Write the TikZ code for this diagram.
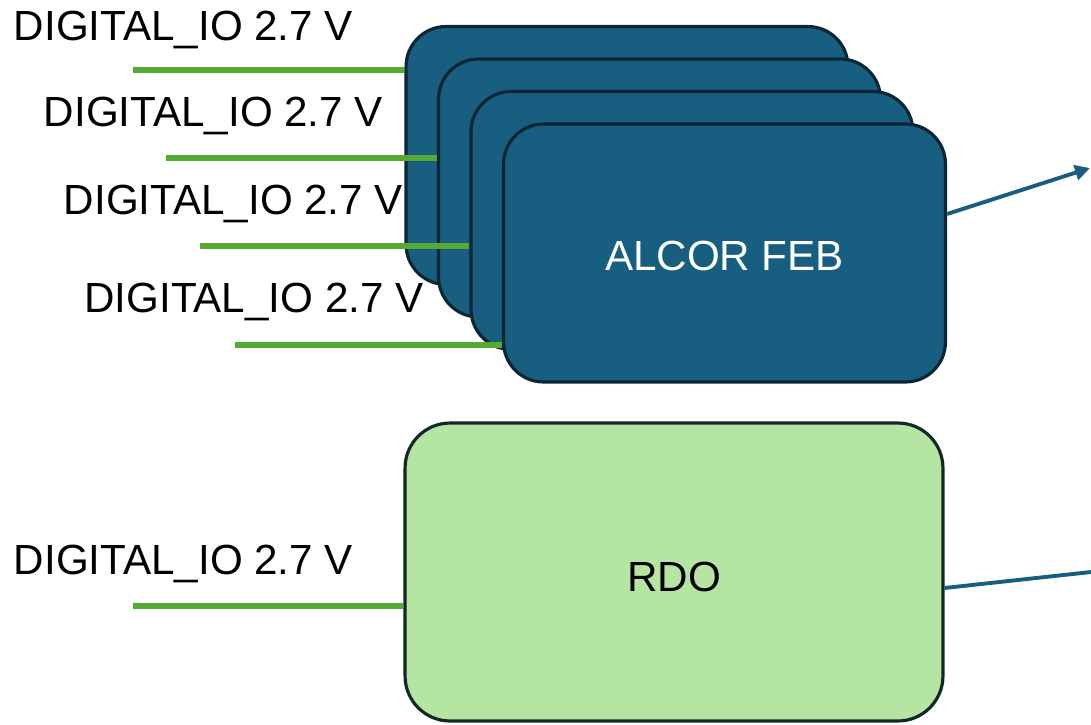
\documentclass[tikz,border=0pt]{standalone}
\usepackage{fontspec}
\setmainfont{Liberation Sans}
\usepackage{xcolor}
\usepackage{tikz}
\usetikzlibrary{arrows.meta, positioning}
\definecolor{FEBBlue}{RGB}{23, 94, 128}
\definecolor{FEBEdge}{RGB}{10, 38, 52}
\definecolor{RDOGreen}{RGB}{181, 229, 163}
\definecolor{RDOEdge}{RGB}{18, 40, 38}
\definecolor{IOGreen}{RGB}{84, 170, 50}

\begin{document}
\begin{tikzpicture}[x=0.02cm, y=-0.02cm, font=\fontsize{24}{28}\selectfont,
    febbox/.style={draw=FEBEdge, fill=FEBBlue, line width=1.8pt, rounded corners=0.8cm,
        minimum width=8.84cm, minimum height=5.16cm, inner sep=0pt},
    rdobox/.style={draw=RDOEdge, fill=RDOGreen, line width=1.8pt, rounded corners=0.9cm,
        minimum width=10.76cm, minimum height=5.96cm, inner sep=0pt},
    ioline/.style={IOGreen, line width=3.2pt},
    iolabel/.style={inner sep=0pt, anchor=center},
    busline/.style={FEBBlue, line width=2.2pt}]
    \useasboundingbox (0,0) rectangle (1091,724);

    % 四块 ALCOR FEB 叠放，每块左侧一路 DIGITAL_IO
    \foreach \i/\ly/\lx in {1/70/133, 2/158/166, 3/246/200, 4/345/235} {
        \node[febbox] (feb\i) at ({627+32.5*(\i-1)}, {155.5+32.5*(\i-1)}) {};
        \coordinate (io\i) at (\lx, \ly);
        \draw[ioline] (io\i) -- (io\i -| feb\i.west);
    }
    \node[white, iolabel] (feblabel) at ([yshift=-0.06cm]feb4.center) {ALCOR FEB};

    % 电压标注
    \foreach \i/\tx/\ty in {1/183.5/30, 2/213.5/116, 3/233.5/204, 4/254/302} {
        \node[iolabel] (iolab\i) at (\tx, \ty) {DIGITAL\_IO 2.7 V};
    }

    % RDO
    \node[rdobox] (rdo) at (674, 572) {};
    \node[iolabel] (rdolabel) at ([yshift=-0.1cm]rdo.center) {RDO};
    \coordinate (iordo) at (133, 606);
    \draw[ioline] (iordo) -- (iordo -| rdo.west);
    \node[iolabel] (iolabrdo) at (183.5, 564) {DIGITAL\_IO 2.7 V};

    % 右侧输出
    \coordinate (febout) at (1090, 168);
    \coordinate (rdoout) at (1091, 572);
    \draw[busline, -{Triangle[length=0.3cm, width=0.3cm]}] ([yshift=0.78cm]feb4.east) -- (febout);
    \draw[busline] ([yshift=-0.32cm]rdo.east) -- (rdoout);
\end{tikzpicture}
\end{document}
